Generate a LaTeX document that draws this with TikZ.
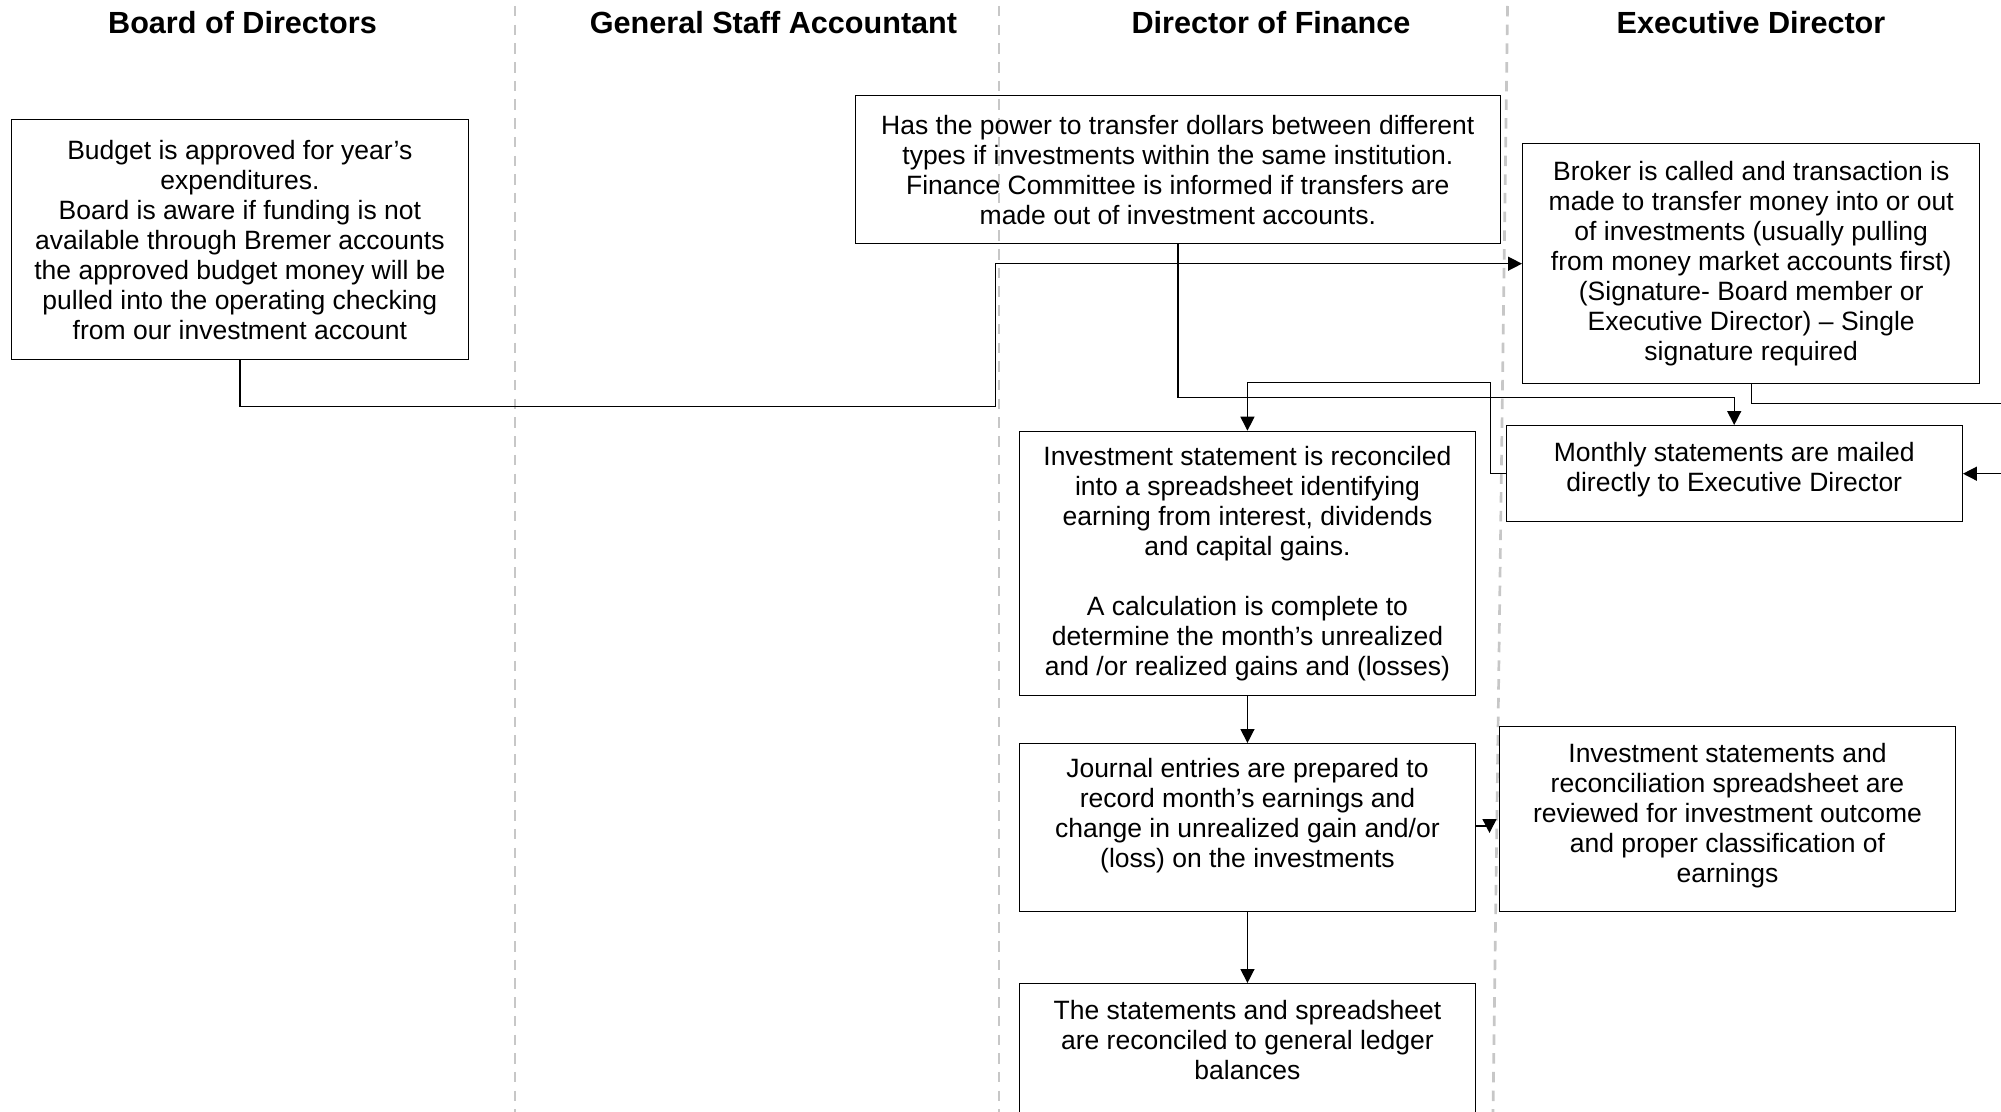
\documentclass[tikz,border=0pt]{standalone}
\usepackage{fontspec}
\setmainfont{Liberation Sans}
\usetikzlibrary{arrows.meta}
\begin{document}
\begin{tikzpicture}[x=0.5pt,y=-0.5pt,
  box/.style={draw, line width=0.7pt, rectangle, anchor=north west, inner sep=0pt,
    align=center, font=\fontsize{13.25pt}{15pt}\selectfont},
  head/.style={anchor=base, font=\fontsize{15.3pt}{18pt}\selectfont\bfseries},
  lane/.style={draw=black!22, line width=1.35pt, dash pattern=on 5.25pt off 4.1pt},
  arr/.style={draw, line width=0.7pt, -{Triangle[length=7pt,width=7pt]}},
]
\useasboundingbox (0,0) rectangle (2001,1112);
\clip (0,0) rectangle (2001,1112);

% swimlane headers
\node[head] (hBoard) at (242.5,33.3) {Board of Directors};
\node[head] (hStaff) at (773.5,33.3) {General Staff Accountant};
\node[head] (hFin) at (1271,33.3) {Director of Finance};
\node[head] (hExec) at (1751,33.3) {Executive Director};

% lane dividers
\draw[lane] (515,6) -- (515,1112);
\draw[lane] (999,6) -- (999,1112);
\draw[lane] (1507.5,6) -- (1493,1112);

% boxes
\node[box, minimum width=228.35pt, minimum height=120pt] (budget) at (10.8,119)
  {Budget is approved for year’s\\expenditures.\\Board is aware if funding is not\\available through Bremer accounts\\the approved budget money will be\\pulled into the operating checking\\from our investment account};
\node[box, minimum width=322.5pt, minimum height=73.85pt] (power) at (854.6,95)
  {Has the power to transfer dollars between different\\types if investments within the same institution.\\Finance Committee is informed if transfers are\\made out of investment accounts.};
\node[box, minimum width=228.5pt, minimum height=120pt] (broker) at (1522,143)
  {Broker is called and transaction is\\made to transfer money into or out\\of investments (usually pulling\\from money market accounts first)\\(Signature- Board member or\\Executive Director) – Single\\signature required};
\node[box, minimum width=228pt, minimum height=48pt] (monthly) at (1505.5,425)
  {Monthly statements are mailed\\directly to Executive Director\\[-8pt]\mbox{}};
\node[box, minimum width=228.25pt, minimum height=132.15pt] (invest) at (1018.5,430.7)
  {Investment statement is reconciled\\into a spreadsheet identifying\\earning from interest, dividends\\and capital gains.\\\mbox{}\\A calculation is complete to\\determine the month’s unrealized\\and /or realized gains and (losses)};
\node[box, minimum width=228.25pt, minimum height=84pt] (journal) at (1018.5,743)
  {Journal entries are prepared to\\record month’s earnings and\\change in unrealized gain and/or\\(loss) on the investments\\\mbox{}};
\node[box, minimum width=228.25pt, minimum height=92.5pt] (review) at (1498.5,726)
  {Investment statements and\\reconciliation spreadsheet are\\reviewed for investment outcome\\and proper classification of\\earnings\\[-9pt]\mbox{}};
\node[box, minimum width=228.25pt, minimum height=86pt] (ledger) at (1018.5,983)
  {The statements and spreadsheet\\are reconciled to general ledger\\balances\\\mbox{}\\\mbox{}};

% bend points
\coordinate (a1) at (995.5,406.7);
\coordinate (yB) at (0,397.7);
\coordinate (c1) at (1490.7,382.7);
\coordinate (d1) at (2030,403.3);
\coordinate (f1) at (1489.5,826);
\coordinate (f2) at (1489.5,833);

% connectors
\draw[arr] (budget.south) |- (a1) |- (broker.west);
\draw[arr] (power.south) |- (monthly.north |- yB) -- (monthly.north);
\draw[arr] (monthly.west) -| (c1) -| (invest.north);
\draw[arr] (broker.south) |- (d1) |- (monthly.east);
\draw[arr] (invest.south) -- (journal.north);
\draw[arr] (journal.south) -- (ledger.north);
\draw[arr] (journal.east |- f1) -- (f1) -- (f2);
\end{tikzpicture}
\end{document}
